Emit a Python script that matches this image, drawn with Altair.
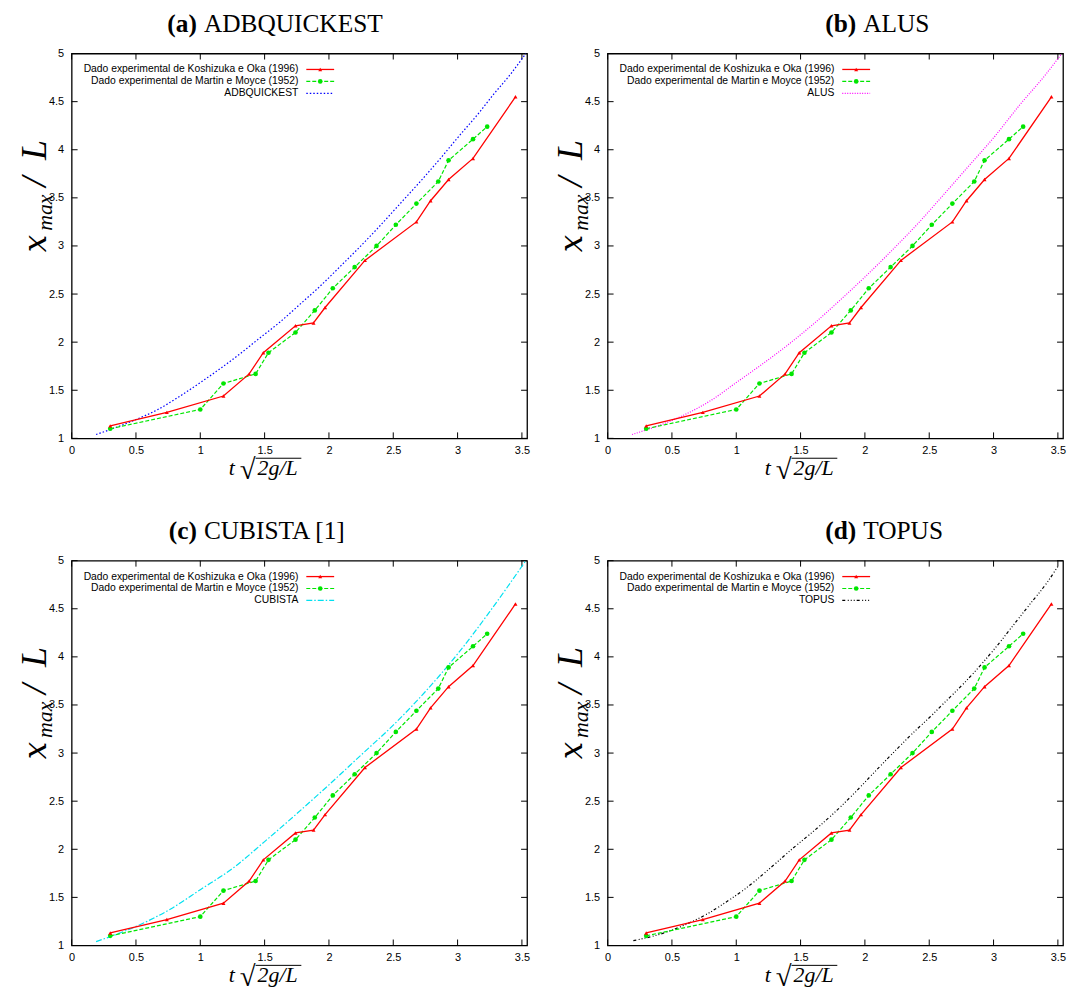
import altair as alt
import pandas as pd

# ---------------- data ----------------
koshi_x = [0.30, 0.74, 1.18, 1.38, 1.49, 1.74, 1.88, 1.97, 2.28, 2.68, 2.79, 2.93, 3.12, 3.45]
koshi_y = [1.13, 1.27, 1.44, 1.67, 1.89, 2.17, 2.20, 2.36, 2.85, 3.25, 3.47, 3.69, 3.91, 4.55]

martin_x = [0.30, 1.00, 1.18, 1.43, 1.53, 1.74, 1.89, 2.03, 2.20, 2.37, 2.52, 2.68, 2.85, 2.93, 3.12, 3.23]
martin_y = [1.10, 1.30, 1.57, 1.67, 1.89, 2.10, 2.33, 2.56, 2.78, 3.00, 3.22, 3.44, 3.67, 3.89, 4.11, 4.24]

adb_x = [0.19, 0.49, 0.67, 0.82, 1.00, 1.16, 1.31, 1.45, 1.62, 1.78, 1.93, 2.09, 2.24, 2.39, 2.54, 2.73, 2.86, 3.01, 3.17, 3.27, 3.42, 3.53]
adb_y = [1.04, 1.19, 1.30, 1.42, 1.58, 1.73, 1.88, 2.03, 2.21, 2.40, 2.58, 2.79, 2.99, 3.20, 3.42, 3.70, 3.90, 4.14, 4.39, 4.56, 4.80, 5.00]

alus_x = [0.19, 0.59, 0.81, 1.00, 1.19, 1.40, 1.61, 1.81, 2.01, 2.20, 2.41, 2.61, 2.80, 3.01, 3.20, 3.41, 3.53]
alus_y = [1.04, 1.24, 1.40, 1.58, 1.76, 1.97, 2.20, 2.44, 2.69, 2.94, 3.23, 3.53, 3.82, 4.14, 4.46, 4.79, 5.00]

cub_x = [0.19, 0.52, 0.77, 1.00, 1.26, 1.50, 1.75, 2.00, 2.25, 2.50, 2.75, 3.00, 3.25, 3.53]
cub_y = [1.04, 1.21, 1.38, 1.58, 1.81, 2.08, 2.37, 2.67, 2.98, 3.29, 3.64, 4.03, 4.47, 5.00]

top_x = [0.20, 0.46, 0.61, 0.79, 0.92, 1.08, 1.26, 1.44, 1.62, 1.77, 1.93, 2.08, 2.24, 2.39, 2.51, 2.60, 2.78, 2.91, 3.03, 3.16, 3.29, 3.42, 3.50]
top_y = [1.05, 1.14, 1.22, 1.34, 1.45, 1.60, 1.80, 2.01, 2.21, 2.39, 2.60, 2.81, 3.03, 3.23, 3.38, 3.50, 3.74, 3.93, 4.12, 4.34, 4.56, 4.78, 4.94]

x_ticks = [0, 0.5, 1, 1.5, 2, 2.5, 3, 3.5]
y_ticks = [1, 1.5, 2, 2.5, 3, 3.5, 4, 4.5, 5]

label_koshi = "Dado experimental de Koshizuka e Oka (1996)"
label_martin = "Dado experimental de Martin e Moyce (1952)"

panels = [
    ("(a)", "ADBQUICKEST", "ADBQUICKEST", adb_x, adb_y, "#0000ff", [1.5, 2]),
    ("(b)", "ALUS", "ALUS", alus_x, alus_y, "#ff00ff", [1, 1.5]),
    ("(c)", "CUBISTA [1]", "CUBISTA", cub_x, cub_y, "#00e0f0", [6, 2, 1.5, 2]),
    ("(d)", "TOPUS", "TOPUS", top_x, top_y, "#000000", [3, 2.5, 1, 2, 1, 2, 1, 2]),
]
title_split = [129, 253, 129, 253]

# ---------------- styles ----------------
W, H = 458, 387
XDOM = [0, 3.54]
YDOM = [1, 5]
RED = "#ff0000"
GREEN = "#00e600"
SERIF = "Liberation Serif"
SANS = "Liberation Sans"
TICK = 6
one = pd.DataFrame({"k": [0]})


def X(field):
    return alt.X(f"{field}:Q",
                 scale=alt.Scale(domain=XDOM, nice=False, zero=False),
                 axis=alt.Axis(values=x_ticks, title=None, ticks=False, domain=False,
                               grid=False, labelFont=SANS, labelFontSize=11,
                               labelPadding=6, format="~g", labelColor="black",
                               labelFlush=False, labelOverlap=False))


def Y(field):
    return alt.Y(f"{field}:Q",
                 scale=alt.Scale(domain=YDOM, nice=False, zero=False),
                 axis=alt.Axis(values=y_ticks, title=None, ticks=False, domain=False,
                               grid=False, labelFont=SANS, labelFontSize=11,
                               labelPadding=8, format="~g", labelColor="black",
                               labelFlush=False, labelOverlap=False))


def txt(text, x, y, size, **kw):
    return alt.Chart(one).mark_text(text=text, fontSize=size, color="black", **kw).encode(
        x=alt.value(x), y=alt.value(y))


def panel(i):
    letter, ttext, sname, sx, sy, scol, sdash = panels[i]
    layers = []

    # inner ticks (gnuplot style)
    xt = pd.DataFrame({"v": x_ticks})
    yt = pd.DataFrame({"v": y_ticks})
    layers.append(alt.Chart(xt).mark_rule(color="black", strokeWidth=1).encode(
        x=X("v"), y=alt.value(H), y2=alt.value(H - TICK)))
    layers.append(alt.Chart(xt).mark_rule(color="black", strokeWidth=1).encode(
        x=X("v"), y=alt.value(0), y2=alt.value(TICK)))
    layers.append(alt.Chart(yt).mark_rule(color="black", strokeWidth=1).encode(
        y=Y("v"), x=alt.value(0), x2=alt.value(TICK)))
    layers.append(alt.Chart(yt).mark_rule(color="black", strokeWidth=1).encode(
        y=Y("v"), x=alt.value(W), x2=alt.value(W - TICK)))

    # simulation curve
    sim = pd.DataFrame({"x": sx, "y": sy})
    layers.append(alt.Chart(sim).mark_line(color=scol, strokeDash=sdash, strokeWidth=1.2,
                                           interpolate="monotone").encode(x=X("x"), y=Y("y")))

    # Martin e Moyce
    mm = pd.DataFrame({"x": martin_x, "y": martin_y})
    layers.append(alt.Chart(mm).mark_line(color=GREEN, strokeDash=[4, 2], strokeWidth=1.2).encode(
        x=X("x"), y=Y("y")))
    layers.append(alt.Chart(mm).mark_point(shape="circle", filled=True, size=22, color=GREEN, opacity=1).encode(
        x=X("x"), y=Y("y")))

    # Koshizuka e Oka
    ko = pd.DataFrame({"x": koshi_x, "y": koshi_y})
    layers.append(alt.Chart(ko).mark_line(color=RED, strokeWidth=1.3).encode(
        x=X("x"), y=Y("y")))
    layers.append(alt.Chart(ko).mark_point(shape="triangle-up", filled=True, size=16, color=RED, opacity=1).encode(
        x=X("x"), y=Y("y")))

    # legend (text on the left, sample on the right)
    rows = [16, 28, 40]
    for lab, yy in zip([label_koshi, label_martin, sname], rows):
        layers.append(txt(lab, 228, yy, 10.4, font=SANS, align="right", baseline="middle"))
    layers.append(alt.Chart(one).mark_rule(color=RED, strokeWidth=1.3).encode(
        x=alt.value(236), x2=alt.value(264), y=alt.value(rows[0])))
    layers.append(alt.Chart(one).mark_point(shape="triangle-up", filled=True, size=16, color=RED, opacity=1).encode(
        x=alt.value(250), y=alt.value(rows[0])))
    layers.append(alt.Chart(one).mark_rule(color=GREEN, strokeDash=[4, 2], strokeWidth=1.2).encode(
        x=alt.value(236), x2=alt.value(264), y=alt.value(rows[1])))
    layers.append(alt.Chart(one).mark_point(shape="circle", filled=True, size=22, color=GREEN, opacity=1).encode(
        x=alt.value(250), y=alt.value(rows[1])))
    layers.append(alt.Chart(one).mark_rule(color=scol, strokeDash=sdash, strokeWidth=1.2).encode(
        x=alt.value(236), x2=alt.value(264), y=alt.value(rows[2])))

    # panel title: bold letter + normal name
    sp = title_split[i]
    layers.append(txt(letter, sp - 3, -22, 25.5, font=SERIF, fontWeight="bold", align="right", baseline="alphabetic"))
    layers.append(txt(ttext, sp + 4, -22, 25.5, font=SERIF, align="left", baseline="alphabetic"))

    # y label  x_max / L  (rotated)
    layers.append(txt("x", -26, 191, 31, font="DejaVu Serif", fontStyle="italic", angle=270, align="center", baseline="alphabetic"))
    layers.append(txt("max", -20, 160, 22, font=SERIF, fontStyle="italic", angle=270, align="center", baseline="alphabetic"))
    layers.append(txt("/", -26, 129, 36, font=SERIF, fontStyle="italic", angle=270, align="center", baseline="alphabetic"))
    layers.append(txt("L", -26, 97, 36, font=SERIF, fontStyle="italic", angle=270, align="center", baseline="alphabetic"))

    # x label  t sqrt(2g/L)
    layers.append(txt("t", 158, 424, 22, font=SERIF, fontStyle="italic", align="left", baseline="alphabetic"))
    layers.append(txt("\u221a", 177, 428, 29, font=SERIF, align="center", baseline="alphabetic"))
    layers.append(txt("2g/L", 187, 424, 22, font=SERIF, fontStyle="italic", align="left", baseline="alphabetic"))
    layers.append(alt.Chart(one).mark_rule(color="black", strokeWidth=1).encode(
        x=alt.value(185), x2=alt.value(231), y=alt.value(407)))

    return alt.layer(*layers).properties(width=W, height=H)


chart = alt.concat(
    *[panel(i) for i in range(4)],
    columns=2,
    spacing={"row": 123, "column": 81},
    bounds="flush",
).configure_view(
    stroke="black", strokeWidth=1.3
).properties(
    padding={"left": 8, "top": 0, "right": 0, "bottom": 0},
    background="white",
)

chart.save("out.html", embed_options={"renderer": "svg", "actions": False})
